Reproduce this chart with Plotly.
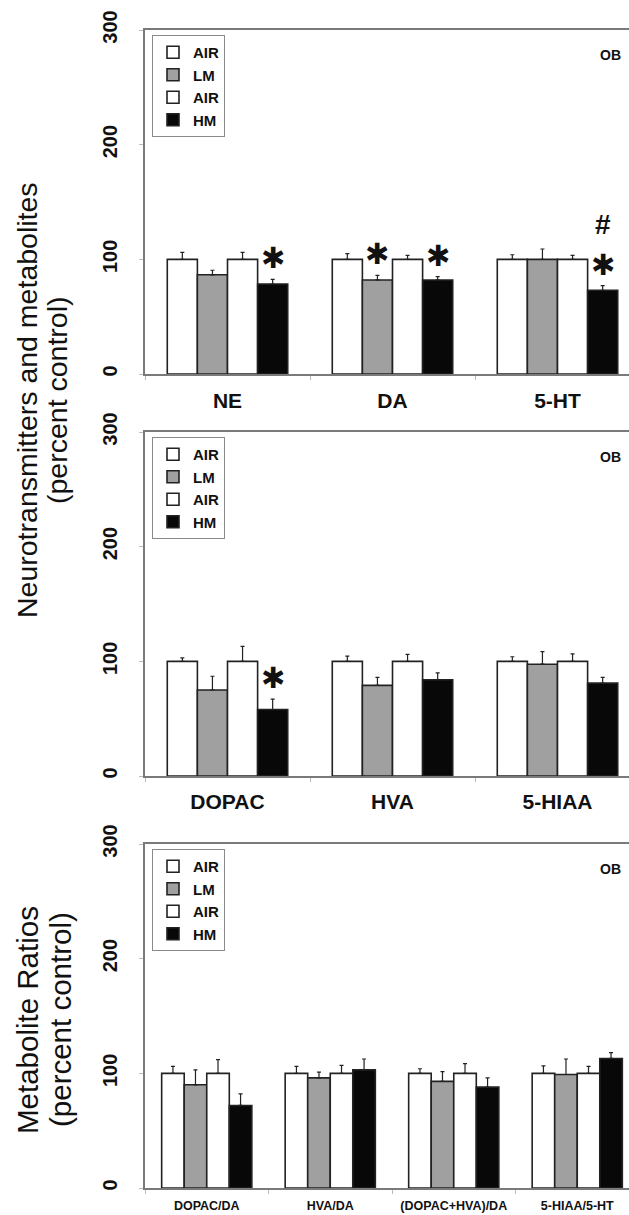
import plotly.graph_objects as go

W, H = 629, 1215

# ---------------- data ----------------
series_names = ["AIR", "LM", "AIR", "HM"]
series_colors = ["#ffffff", "#a0a0a0", "#ffffff", "#080808"]

cats1 = ["NE", "DA", "5-HT"]
p1_air1 = [100, 100, 100]
p1_air1_err = [6, 5, 4]
p1_lm = [86.5, 82, 100]
p1_lm_err = [4, 4, 9]
p1_air2 = [100, 100, 100]
p1_air2_err = [6, 3.5, 3.5]
p1_hm = [78.5, 82, 73]
p1_hm_err = [4, 3, 4]

cats2 = ["DOPAC", "HVA", "5-HIAA"]
p2_air1 = [100, 100, 100]
p2_air1_err = [3, 4.5, 4]
p2_lm = [75, 79, 97.5]
p2_lm_err = [12, 7, 11]
p2_air2 = [100, 100, 100]
p2_air2_err = [13, 6, 6.5]
p2_hm = [58, 84, 81]
p2_hm_err = [9, 6, 5]

cats3 = ["DOPAC/DA", "HVA/DA", "(DOPAC+HVA)/DA", "5-HIAA/5-HT"]
p3_air1 = [100, 100, 100, 100]
p3_air1_err = [6, 6, 4, 6.5]
p3_lm = [90, 96, 93, 99]
p3_lm_err = [13, 5, 8.5, 13.5]
p3_air2 = [100, 100, 100, 100]
p3_air2_err = [12, 7, 8.5, 6]
p3_hm = [72, 103, 88, 113]
p3_hm_err = [10, 9.5, 8, 5]

# significance markers: (category, series index, symbol)
p1_sig = [("NE", 3, "✱"), ("DA", 1, "✱"), ("DA", 3, "✱"), ("5-HT", 3, "✱")]
p1_hash = [("5-HT", 3, "#")]
p2_sig = [("DOPAC", 3, "✱")]
p3_sig = []

y_ticks = [0, 100, 200, 300]
panel_label = "OB"

# ---------------- layout helpers ----------------
BARGAP = 0.27
FONT = "Liberation Sans, Arial, sans-serif"

def py(pix):
    return 1 - pix / H

def px(pix):
    return pix / W

panels = [
    dict(cats=cats1, vals=[p1_air1, p1_lm, p1_air2, p1_hm],
         errs=[p1_air1_err, p1_lm_err, p1_air2_err, p1_hm_err],
         sig=p1_sig, hsh=p1_hash, top=30, bot=374, tickfont=21, spacing=165, stand=7),
    dict(cats=cats2, vals=[p2_air1, p2_lm, p2_air2, p2_hm],
         errs=[p2_air1_err, p2_lm_err, p2_air2_err, p2_hm_err],
         sig=p2_sig, hsh=[], top=432, bot=776, tickfont=21, spacing=165, stand=6),
    dict(cats=cats3, vals=[p3_air1, p3_lm, p3_air2, p3_hm],
         errs=[p3_air1_err, p3_lm_err, p3_air2_err, p3_hm_err],
         sig=p3_sig, hsh=[], top=844, bot=1188, tickfont=12.5, spacing=123.5, stand=5),
]

LEFT = 145
fig = go.Figure()
annotations = []
layout = dict(
    width=W, height=H, margin=dict(l=0, r=0, t=0, b=0, autoexpand=False),
    paper_bgcolor="white", plot_bgcolor="white",
    barmode="group", bargap=BARGAP, bargroupgap=0,
    font=dict(family=FONT, color="#111"),
)

bw = (1 - BARGAP) / 4
for pi, p in enumerate(panels):
    k = "" if pi == 0 else str(pi + 1)
    xa, ya = "x" + k, "y" + k
    lg = "legend" + k
    for si in range(4):
        fig.add_trace(go.Bar(
            x=p["cats"], y=p["vals"][si], name=series_names[si],
            xaxis=xa, yaxis=ya, legend=lg,
            legendgroup="g%d" % si,
            marker=dict(color=series_colors[si], line=dict(color="#222222", width=1.6)),
            error_y=dict(type="data", symmetric=False, array=p["errs"][si],
                         arrayminus=[0] * len(p["cats"]), color="#222",
                         thickness=1.2, width=2),
        ))
    xr = [-0.5, -0.5 + (W - LEFT) / p["spacing"]]
    layout["xaxis" + k] = dict(
        domain=[px(LEFT), 1], anchor=ya, type="category", range=xr,
        showline=True, linecolor="#7a7a7a", linewidth=1.5, mirror=True,
        ticks="outside", tickson="boundaries", ticklen=4, tickcolor="#bbbbbb",
        tickfont=dict(size=p["tickfont"], family=FONT, weight="bold", color="#111"),
        ticklabelstandoff=p["stand"], showgrid=False, fixedrange=True, automargin=False,
    )
    layout["yaxis" + k] = dict(
        domain=[py(p["bot"]), py(p["top"])], anchor=xa, range=[0, 300],
        tickvals=y_ticks, tickangle=-90,
        showline=True, linecolor="#7a7a7a", linewidth=1.5, mirror=False,
        ticks="outside", ticklen=4, tickcolor="#bbbbbb",
        tickfont=dict(size=20, family=FONT, weight="bold", color="#111"),
        ticklabelstandoff=14, showgrid=False, zeroline=False, fixedrange=True,
        automargin=False,
    )
    layout[lg] = dict(
        x=px(152), y=py(p["top"] + 5), xanchor="left", yanchor="top",
        bordercolor="#8a8a8a", borderwidth=1, bgcolor="white",
        font=dict(size=15, family=FONT, weight="bold", color="#111"),
        itemwidth=30, traceorder="grouped", tracegroupgap=0,
    )
    # OB label
    annotations.append(dict(
        xref="paper", yref="paper", x=px(610), y=py(p["top"] + 25),
        text=panel_label, showarrow=False, xanchor="center", yanchor="middle",
        font=dict(size=14, family=FONT, weight="bold", color="#111")))
    # significance markers
    for (cat, si, sym) in p["sig"]:
        ci = p["cats"].index(cat)
        annotations.append(dict(
            xref=xa, yref=ya, x=ci + (si - 1.5) * bw,
            y=p["vals"][si][ci] + p["errs"][si][ci],
            text=sym, showarrow=False, xanchor="center", yanchor="middle",
            yshift=21, font=dict(size=29, family="DejaVu Sans", color="#111")))
    for (cat, si, sym) in p["hsh"]:
        ci = p["cats"].index(cat)
        annotations.append(dict(
            xref=xa, yref=ya, x=ci + (si - 1.5) * bw,
            y=p["vals"][si][ci] + p["errs"][si][ci],
            text=sym, showarrow=False, xanchor="center", yanchor="middle",
            yshift=61, font=dict(size=28, family=FONT, weight="bold", color="#111")))

# y-axis titles (one annotation per line)
title_lines = [
    ("Neurotransmitters and metabolites", 27, 400, 28.5),
    ("(percent control)", 57, 400, 28.5),
    ("Metabolite Ratios", 27, 1020, 29.5),
    ("(percent control)", 60, 1020, 29.5),
]
for txt, xp, yp, fs in title_lines:
    annotations.append(dict(
        xref="paper", yref="paper", x=px(xp), y=py(yp), text=txt,
        textangle=-90, showarrow=False, xanchor="center", yanchor="middle",
        font=dict(size=fs, family=FONT, color="#111")))

layout["annotations"] = annotations
fig.update_layout(**layout)
fig.write_html("out.html")
